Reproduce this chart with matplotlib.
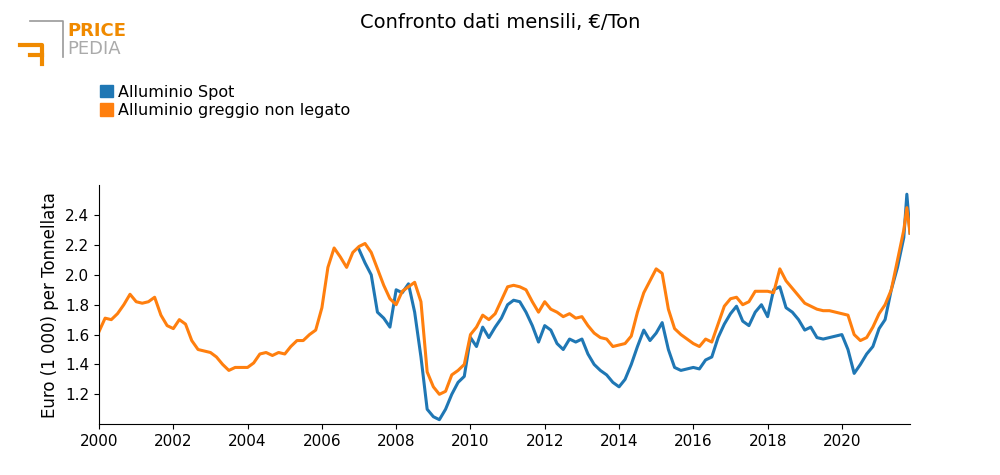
import matplotlib
matplotlib.use("Agg")
import matplotlib.pyplot as plt
import pandas as pd
from matplotlib.patches import Patch

# bimonthly readings (Jan, Mar, May, Jul, Sep, Nov), then Oct/Nov 2021
grezzo = [
    1.62, 1.71, 1.70, 1.74, 1.80, 1.87,
    1.82, 1.81, 1.82, 1.85, 1.73, 1.66,
    1.64, 1.70, 1.67, 1.56, 1.50, 1.49,
    1.48, 1.45, 1.40, 1.36, 1.38, 1.38,
    1.38, 1.41, 1.47, 1.48, 1.46, 1.48,
    1.47, 1.52, 1.56, 1.56, 1.60, 1.63,
    1.78, 2.05, 2.18, 2.12, 2.05, 2.15,
    2.19, 2.21, 2.15, 2.04, 1.93, 1.84,
    1.80, 1.89, 1.92, 1.95, 1.82, 1.35,
    1.25, 1.20, 1.22, 1.33, 1.36, 1.40,
    1.60, 1.65, 1.73, 1.70, 1.74, 1.83,
    1.92, 1.93, 1.92, 1.90, 1.82, 1.75,
    1.82, 1.77, 1.75, 1.72, 1.74, 1.71,
    1.72, 1.66, 1.61, 1.58, 1.57, 1.52,
    1.53, 1.54, 1.59, 1.75, 1.88, 1.96,
    2.04, 2.01, 1.77, 1.64, 1.60, 1.57,
    1.54, 1.52, 1.57, 1.55, 1.67, 1.79,
    1.84, 1.85, 1.80, 1.82, 1.89, 1.89,
    1.89, 1.88, 2.04, 1.96, 1.91, 1.86,
    1.81, 1.79, 1.77, 1.76, 1.76, 1.75,
    1.74, 1.73, 1.60, 1.56, 1.58, 1.65,
    1.74, 1.80, 1.90, 2.10, 2.30, 2.45, 2.28,
]
spot = [
    2.17, 2.08, 2.00, 1.75, 1.71, 1.65,
    1.90, 1.88, 1.94, 1.75, 1.45, 1.10,
    1.05, 1.03, 1.10, 1.20, 1.28, 1.32,
    1.58, 1.52, 1.65, 1.58, 1.65, 1.71,
    1.80, 1.83, 1.82, 1.75, 1.66, 1.55,
    1.66, 1.63, 1.54, 1.50, 1.57, 1.55,
    1.57, 1.47, 1.40, 1.36, 1.33, 1.28,
    1.25, 1.30, 1.40, 1.52, 1.63, 1.56,
    1.61, 1.68, 1.50, 1.38, 1.36, 1.37,
    1.38, 1.37, 1.43, 1.45, 1.58, 1.67,
    1.74, 1.79, 1.69, 1.66, 1.75, 1.80,
    1.72, 1.90, 1.92, 1.78, 1.75, 1.70,
    1.63, 1.65, 1.58, 1.57, 1.58, 1.59,
    1.60, 1.50, 1.34, 1.40, 1.47, 1.52,
    1.64, 1.70, 1.90, 2.05, 2.25, 2.54, 2.28,
]

tail = list(pd.to_datetime(["2021-10-01", "2021-11-01"]))
dates_grezzo = list(pd.date_range("2000-01-01", "2021-09-01", freq="2MS")) + tail
dates_spot = list(pd.date_range("2007-01-01", "2021-09-01", freq="2MS")) + tail

BLUE = "#1f77b4"
ORANGE = "#ff7f0e"

fig = plt.figure(figsize=(10, 4.75), dpi=100)
ax = fig.add_axes([0.099, 0.107, 0.811, 0.503])
ax.plot(dates_spot, spot, color=BLUE, lw=2.2)
ax.plot(dates_grezzo, grezzo, color=ORANGE, lw=2.2)

ax.set_xlim(pd.Timestamp("2000-01-01"), pd.Timestamp("2021-11-01"))
ax.set_ylim(1.0, 2.6)
ax.set_yticks([1.2, 1.4, 1.6, 1.8, 2.0, 2.2, 2.4])
ax.set_xticks(pd.to_datetime([f"{y}-01-01" for y in range(2000, 2022, 2)]))
ax.set_xticklabels([str(y) for y in range(2000, 2022, 2)])
for s in ["top"]:
    ax.spines[s].set_visible(False)
ax.spines["right"].set_visible(False)
ax.tick_params(direction="out", labelsize=11)
ax.set_ylabel("Euro (1 000) per Tonnellata", fontsize=12)

fig.text(0.5, 0.953, "Confronto dati mensili, €/Ton", ha="center", va="center", fontsize=14)

fig.legend(handles=[Patch(color=BLUE, label="Alluminio Spot"),
                    Patch(color=ORANGE, label="Alluminio greggio non legato")],
           loc="upper left", bbox_to_anchor=(0.094, 0.835), frameon=False,
           fontsize=11.5, handlelength=0.8, handleheight=0.8, handletextpad=0.3,
           labelspacing=0.2, borderaxespad=0)

# logo
fig.text(0.067, 0.935, "PRICE", color="#f08a00", fontsize=13, fontweight="bold", va="center")
fig.text(0.067, 0.897, "PEDIA", color="#aaaaaa", fontsize=13, va="center")
fig.add_artist(plt.Line2D([0.03, 0.063, 0.063], [0.955, 0.955, 0.88], color="#999999", lw=1.2))
fig.add_artist(plt.Line2D([0.02, 0.042, 0.042], [0.905, 0.905, 0.865], color="#f08a00", lw=3))
fig.add_artist(plt.Line2D([0.03, 0.042], [0.885, 0.885], color="#f08a00", lw=3))

fig.savefig("out.png", dpi=100)
